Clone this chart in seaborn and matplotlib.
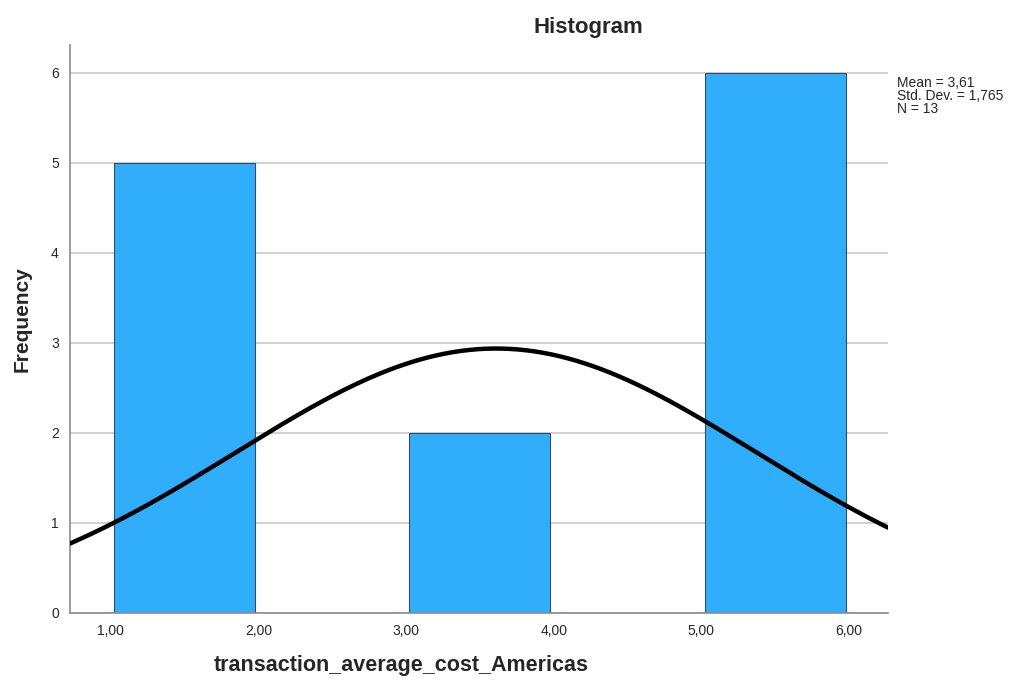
import numpy as np
import pandas as pd
import matplotlib
matplotlib.use("Agg")
import matplotlib.pyplot as plt
import seaborn as sns

# bin edges and counts
bin_edges = [1, 2, 3, 4, 5, 6]
bin_counts = [5, 0, 2, 0, 6]
mean_val = 3.61
sd_val = 1.765
n_val = 13
x_ticks = [1, 2, 3, 4, 5, 6]
x_tick_labels = ["1,00", "2,00", "3,00", "4,00", "5,00", "6,00"]
y_ticks = [0, 1, 2, 3, 4, 5, 6]
stats_text = "Mean = 3,61\nStd. Dev. = 1,765\nN = 13"

sns.set_style("white")
plt.rcParams["font.family"] = ["Liberation Sans", "DejaVu Sans"]

centers = [(a + b) / 2 for a, b in zip(bin_edges[:-1], bin_edges[1:])]
df = pd.DataFrame({"value": centers, "count": bin_counts})

fig = plt.figure(figsize=(10.2, 6.83), dpi=100)
ax = fig.add_axes([0.0686, 0.1025, 0.8020, 0.8315])

sns.histplot(data=df, x="value", weights="count", bins=bin_edges,
             color="#30aefc", edgecolor="#3a4a5a", linewidth=0.8,
             alpha=1, ax=ax, zorder=2)

# SPSS draws the bars a touch narrower than the bin
shrink = 0.955
for p in ax.patches:
    w = p.get_width()
    p.set_x(p.get_x() + w * (1 - shrink) / 2)
    p.set_width(w * shrink)

# normal curve scaled to counts (bin width 1)
x_lo, x_hi = 0.724, 6.264
xs = np.linspace(x_lo, x_hi, 300)
ys = n_val * 1.0 / (sd_val * np.sqrt(2 * np.pi)) * np.exp(-0.5 * ((xs - mean_val) / sd_val) ** 2)
sns.lineplot(x=xs, y=ys, color="black", linewidth=3.2, ax=ax, zorder=3)

ax.set_xlim(x_lo, x_hi)
ax.set_ylim(0, 6.31)
ax.set_xticks(x_ticks)
ax.set_xticklabels(x_tick_labels, fontsize=10)
ax.set_yticks(y_ticks)
ax.tick_params(axis="both", length=0, labelsize=10, pad=8)
ax.yaxis.grid(True, color="#c8c8c8", linewidth=1.2, zorder=0)
ax.set_axisbelow(True)

for side in ["top", "right"]:
    ax.spines[side].set_visible(False)
for side in ["left", "bottom"]:
    ax.spines[side].set_color("#8c8c8c")
    ax.spines[side].set_linewidth(1.2)

ax.set_xlabel("")
ax.set_ylabel("")
fig.text(0.393, 0.025, "transaction_average_cost_Americas", fontsize=15.5,
         fontweight="bold", ha="center", va="center")
fig.text(0.022, 0.533, "Frequency", fontsize=15, fontweight="bold",
         rotation=90, ha="center", va="center")
fig.text(0.577, 0.96, "Histogram", fontsize=16, fontweight="bold",
         ha="center", va="center")
fig.text(0.879, 0.889, stats_text,
         fontsize=10, ha="left", va="top", linespacing=0.9)

fig.savefig("out.png", dpi=100)
